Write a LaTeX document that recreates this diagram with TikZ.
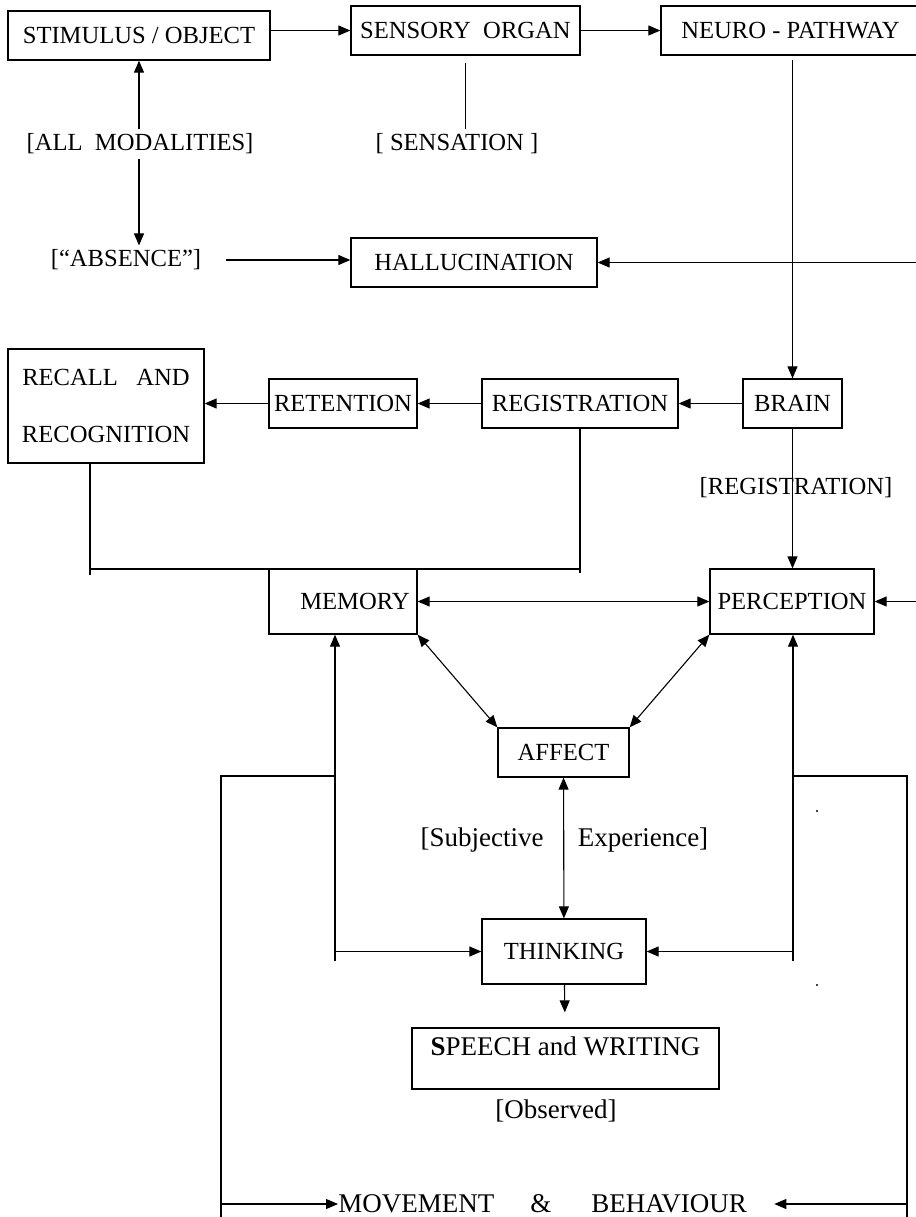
\documentclass[tikz,border=0pt]{standalone}
\usepackage{fontspec}
\setmainfont{Liberation Serif}
\usepackage{tikz}
\usetikzlibrary{arrows.meta,positioning,calc}

\begin{document}
\begin{tikzpicture}[
  x=0.5pt, y=-0.5pt,
  font=\fontsize{12.3}{14}\selectfont,
  box/.style={draw, line width=0.65pt, inner sep=1pt, minimum height=24.5pt},
  lab/.style={inner sep=2pt},
  big/.style={font=\fontsize{13.5}{16}\selectfont},
  wire/.style={line width=0.55pt},
  flow/.style={-{Triangle[length=6pt,width=5pt]}, line width=0.55pt},
  both/.style={{Triangle[length=6pt,width=5pt]}-{Triangle[length=6pt,width=5pt]}, line width=0.55pt},
]
\useasboundingbox (0,0) rectangle (916,1217);
% top row
\node[box, minimum width=131pt] (stim) at (139,35.5) {STIMULUS / OBJECT};
\node[box, minimum width=114.5pt] (sens) at (465.5,30.5) {SENSORY~~ORGAN};
\node[box, minimum width=129.5pt] (neuro) at (790.5,30.5) {NEURO - PATHWAY};
\node[lab] (modal) at (140,144) {[ALL~~MODALITIES]};
\node[lab] (sensat) at (457,144) {[ SENSATION ]};
\node[lab] (absence) at (126,260) {[“ABSENCE”]};
\node[box, minimum width=123pt] (halluc) at (474,262.5) {HALLUCINATION};
% memory chain
\node[box, minimum width=98pt, minimum height=57pt, align=center] (recall) at (106,406)
  {RECALL\hspace{0.75em}AND\\[14.5pt]RECOGNITION};
\node[box, minimum width=74pt] (reten) at (343,403.5) {RETENTION};
\node[box, minimum width=98pt] (regis) at (580,403.5) {REGISTRATION};
\node[box, minimum width=49.5pt] (brain) at (792.5,403.5) {BRAIN};
\node[lab] (regnote) at (796,488) {[REGISTRATION]};
\node[box, minimum width=74pt, minimum height=32.5pt] (memory) at (343,601.5) {\hspace{12pt}MEMORY};
\node[box, minimum width=82pt, minimum height=32.5pt] (percep) at (792,601.5) {PERCEPTION};
% centre column
\node[box, minimum width=65.5pt] (affect) at (563.5,752.5) {AFFECT};
\node[lab, big] (subj) at (482,840) {[Subjective};
\node[lab, big] (exper) at (643,840) {Experience]};
\node[box, minimum width=82pt, minimum height=32.5pt] (think) at (564,951.5) {THINKING};
\node[box, big, minimum width=153.5pt, inner ysep=0pt, text height=13.5pt, text depth=17pt] (speech)
  at (565.5,1058.5) {\textbf{S}PEECH and WRITING};
\node[lab, big] (observ) at (556,1111) {[Observed]};
\node[big, inner sep=0pt, anchor=west] (move) at (338,1204)
  {MOVEMENT\hspace{18pt}\&\hspace{20pt}BEHAVIOUR};
% free ends
\coordinate (hallR) at (920,262.5);
\coordinate (percR) at (920,601.5);
\coordinate (recB) at (90,575);
\coordinate (joinL) at (90,569);
\coordinate (joinR) at (580,569);
\coordinate (regB) at (580,573);
\coordinate (memL) at (335,961);
\coordinate (percL) at (793,961);
\coordinate (frameL) at (221,776);
\coordinate (frameR) at (907,776);
\coordinate (footL) at (221,1220);
\coordinate (footR) at (907,1220);
% connectors
\draw[flow] (stim.east |- sens.west) -- (sens.west);
\draw[flow] (sens) -- (neuro);
\draw[wire] ([yshift=-3.5pt]sens.south) -- (sens.south |- sensat.north);
\draw[flow] (modal.north -| stim.south) -- (stim.south);
\draw[flow] (modal.south -| stim.south) -- (absence.north -| stim.south);
\draw[flow, shorten <=10pt] (absence.east) -- (absence.east -| halluc.west);
\draw[flow] (hallR) -- (halluc.east);
\draw[flow, shorten <=2pt] (neuro.south -| brain.north) -- (brain.north);
\draw[flow] (brain) -- (regis);
\draw[flow] (regis) -- (reten);
\draw[flow] (reten.west) -- (reten.west -| recall.east);
\draw[flow] (brain.south) -- (percep.north -| brain.south);
\draw[wire] (recall.south -| recB) -- (recB);
\draw[wire] (joinL) -- (joinR);
\draw[wire] (regis.south) -- (regB);
\draw[both] (memory) -- (percep);
\draw[flow] (percR) -- (percep.east);
\draw[both] (memory.south east) -- (affect.north west);
\draw[both] (percep.south west) -- (affect.north east);
\draw[both] (affect) -- (think);
\draw[flow] (memL) -- (memL |- memory.south);
\draw[flow] (percL) -- (percL |- percep.south);
\draw[flow] (memL |- think.west) -- (think.west);
\draw[flow] (percL |- think.east) -- (think.east);
\draw[flow, shorten >=7.5pt] (think) -- (speech);
\draw[wire] (memL |- frameL) -- (frameL) -- (footL);
\draw[wire] (percL |- frameR) -- (frameR) -- (footR);
\draw[flow] (footL |- move.west) -- (move.west);
\draw[flow, shorten >=13.5pt] (footR |- move.east) -- (move.east);
% specks
\fill (817,811) circle (0.6pt);
\fill (817,985) circle (0.6pt);
\end{tikzpicture}
\end{document}
